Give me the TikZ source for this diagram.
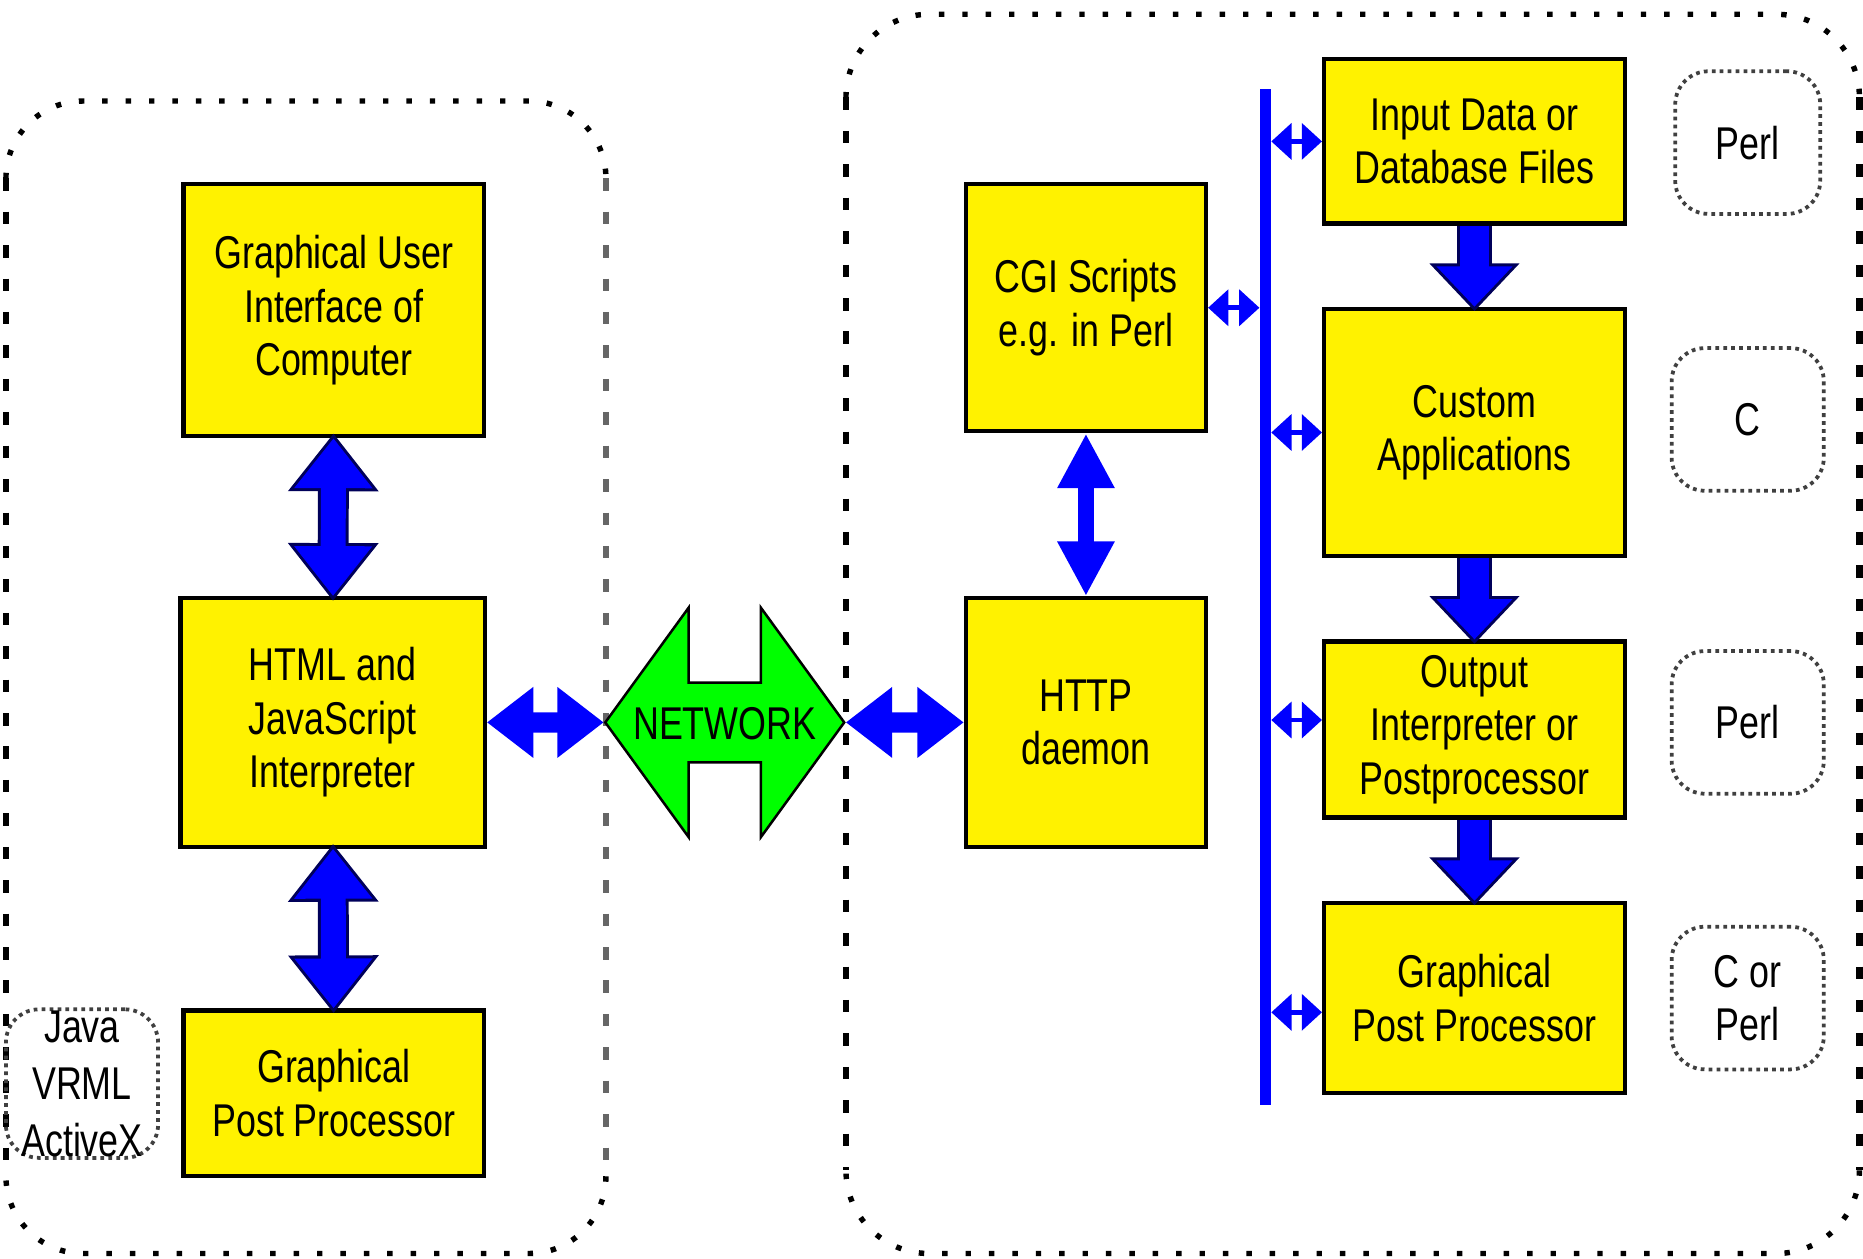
\documentclass[tikz,border=0pt]{standalone}
\usepackage{fontspec}
\setmainfont{Liberation Sans}[FakeStretch=0.78]
\usetikzlibrary{shapes.arrows, arrows.meta}

\tikzstyle{block} = [rectangle, draw=black, line width=1pt, fill=yellow, align=center, inner sep=0pt, font=\fontsize{11}{12.8}\selectfont]
\tikzstyle{lang} = [rectangle, rounded corners=0.28cm, draw=black!75, densely dotted, line width=0.9pt, minimum width=1.28cm, minimum height=1.2cm, inner sep=0pt, align=center, font=\fontsize{11}{12.8}\selectfont]
\tikzstyle{network} = [double arrow, draw=black, fill=green, line width=0.6pt, double arrow tip angle=108, minimum height=2.01cm, minimum width=1.91cm, double arrow head extend=0.63cm, inner sep=0pt, text height=0.465cm, text depth=0.185cm, font=\fontsize{11}{12.8}\selectfont]
\tikzstyle{hdots} = [line width=1.3pt, dash pattern=on 1.3pt off 4.3pt]
\tikzstyle{vdash} = [line width=1.5pt, dash pattern=on 3pt off 5pt]
\tikzstyle{bigarrow} = [blue, line width=0.21cm, {Triangle[length=0.42cm, width=0.63cm]}-{Triangle[length=0.42cm, width=0.63cm]},
  preaction={draw=blue!35!black, line width=0.26cm, shorten <=-0.041cm, shorten >=-0.041cm, arrows={Triangle[length=0.487cm, width=0.73cm]-Triangle[length=0.487cm, width=0.73cm]}}]
\tikzstyle{midarrow} = [blue, line width=0.14cm, {Triangle[length=0.46cm, width=0.45cm]}-{Triangle[length=0.46cm, width=0.45cm]}]
\tikzstyle{harrow} = [blue, line width=0.17cm, {Triangle[length=0.39cm, width=0.57cm]}-{Triangle[length=0.39cm, width=0.57cm]}]
\tikzstyle{downarrow} = [blue, line width=0.25cm, -{Triangle[length=0.34cm, width=0.62cm]},
  preaction={draw=blue!35!black, line width=0.30cm, shorten >=-0.037cm, arrows={-Triangle[length=0.402cm, width=0.733cm]}}]
\tikzstyle{smallarrow} = [blue, line width=0.04cm, {Triangle[length=0.17cm, width=0.3cm]}-{Triangle[length=0.17cm, width=0.3cm]}]
\tikzstyle{bus} = [blue, line width=0.09cm]

\begin{document}
\begin{tikzpicture}[x=0.01cm, y=-0.01cm]
  \useasboundingbox (0,0) rectangle (1568,1059);

  % client side
  \draw [hdots] (5,150) arc (180:270:65) -- (445,85) arc (270:360:65);
  \draw [hdots] (510,990) arc (0:90:65) -- (70,1055) arc (90:180:65);
  \draw [vdash] (5,150) -- (5,990);
  \draw [vdash, black!60] (510,150) -- (510,990);
  \node (gui) [block, minimum width=2.53cm, minimum height=2.12cm] at (281,261) {Graphical User\\Interface of\\Computer};
  \node (html) [block, minimum width=2.56cm, minimum height=2.09cm] at (280,608) {HTML and\\JavaScript\\Interpreter};
  \node (gppl) [block, minimum width=2.53cm, minimum height=1.39cm] at (281,920) {Graphical\\Post Processor};
  \node (java) [lang, minimum height=1.25cm, font=\fontsize{11}{13.6}\selectfont] at (69,912) {Java\\VRML\\ActiveX};

  % network
  \node (net) [network] at (610,608) {\makebox[0pt]{NETWORK}};

  % server side
  \draw [hdots] (712,82) arc (180:270:70) -- (1495,12) arc (270:360:70);
  \draw [hdots] (1565,985) arc (0:90:70) -- (782,1055) arc (90:180:70);
  \draw [vdash] (712,82) -- (712,985);
  \draw [vdash] (1565,82) -- (1565,985);
  \node (cgi) [block, minimum width=2.02cm, minimum height=2.08cm] at (914,259) {CGI Scripts\\e.g. in Perl};
  \node (http) [block, minimum width=2.02cm, minimum height=2.09cm] at (914,608) {HTTP\\daemon};
  \node (input) [block, minimum width=2.53cm, minimum height=1.38cm] at (1241,119) {Input Data or\\Database Files};
  \node (custom) [block, minimum width=2.53cm, minimum height=2.08cm] at (1241,364) {Custom\\Applications};
  \node (output) [block, minimum width=2.53cm, minimum height=1.48cm] at (1241,614) {Output\\Interpreter or\\Postprocessor};
  \node (gppr) [block, minimum width=2.53cm, minimum height=1.6cm] at (1241,840) {Graphical\\Post Processor};

  \node (perla) [lang, minimum width=1.22cm] at (1471,120) {Perl};
  \node (clang) [lang] at (1471,353) {C};
  \node (perlb) [lang] at (1471,608) {Perl};
  \node (cperl) [lang] at (1471,840) {C or\\Perl};

  \coordinate (bustop) at (1065,75);
  \coordinate (busbot) at (1065,930);
  \draw [bus] (bustop) -- (busbot);

  \draw [bigarrow] (gui) -- (html);
  \draw [bigarrow] (html) -- (gppl);
  \draw [harrow] (html) -- (net);
  \draw [harrow] (net) -- (http);
  \draw [midarrow] (cgi) -- (http);
  \draw [downarrow] (input) -- (custom);
  \draw [downarrow] (custom) -- (output);
  \draw [downarrow] (output) -- (gppr);

  \draw [smallarrow] ([xshift=-0.05cm]cgi.east -| bustop) -- (cgi.east);
  \draw [smallarrow] ([xshift=0.05cm]input.west -| bustop) -- (input.west);
  \draw [smallarrow] ([xshift=0.05cm]custom.west -| bustop) -- (custom.west);
  \draw [smallarrow] ([xshift=0.05cm, yshift=0.08cm]output.west -| bustop) -- ([yshift=0.08cm]output.west);
  \draw [smallarrow] ([xshift=0.05cm, yshift=-0.12cm]gppr.west -| bustop) -- ([yshift=-0.12cm]gppr.west);
\end{tikzpicture}
\end{document}
